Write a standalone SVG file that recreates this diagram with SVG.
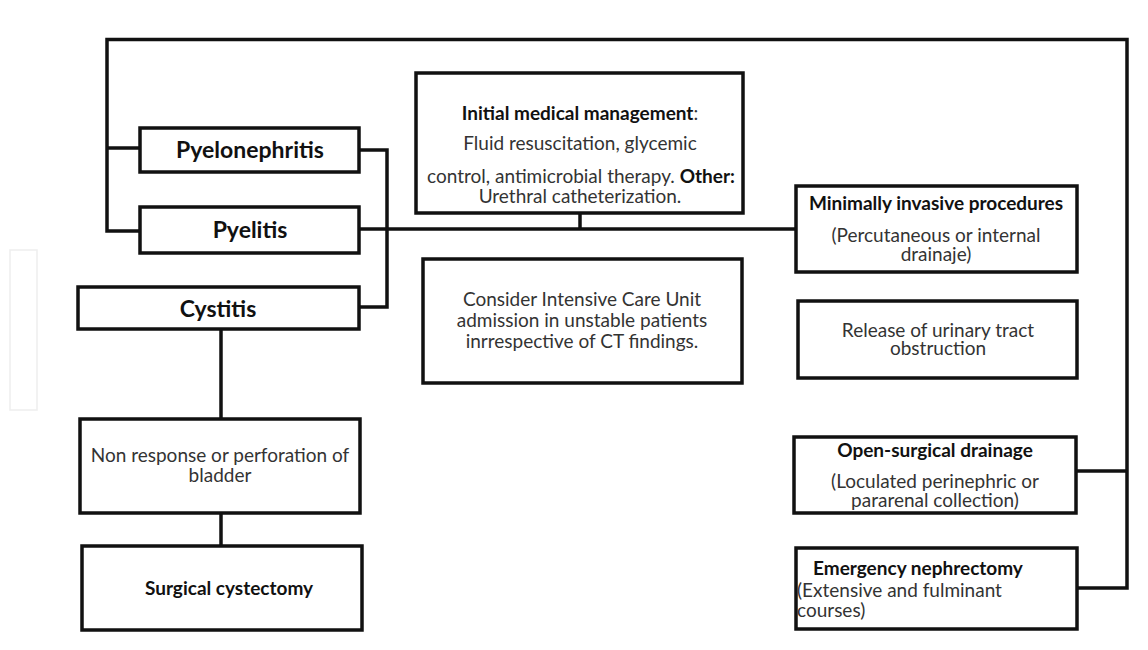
<svg xmlns="http://www.w3.org/2000/svg" width="1148" height="650" viewBox="0 0 1148 650">
<style>
.box{fill:#fff;stroke:#111;stroke-width:3.5}
.ln{fill:none;stroke:#111;stroke-width:3.5}
text{font-family:Lato,"Liberation Sans",sans-serif;fill:#333;font-size:19px}
.b{font-weight:bold;fill:#111}
.big{font-size:23px}
.c{text-anchor:middle}
</style>
<rect width="1148" height="650" fill="#fff"/>
<rect x="10" y="250" width="27" height="160" fill="#fff" stroke="#eeeeee" stroke-width="1.5"/>
<g id="connectors">
<polyline class="ln" points="140,148 107,148"/>
<polyline class="ln" points="140,231 107,231 107,39.5 1127,39.5 1127,588 1077,588"/>
<line class="ln" x1="1076" y1="471" x2="1127" y2="471"/>
<polyline class="ln" points="359,150 387,150 387,307 359,307"/>
<line class="ln" x1="359" y1="229" x2="796" y2="229"/>
<line class="ln" x1="580" y1="213" x2="580" y2="229"/>
<line class="ln" x1="221" y1="329" x2="221" y2="419"/>
<line class="ln" x1="221" y1="513" x2="221" y2="546"/>
</g>
<g id="pyelonephritis"><rect class="box" x="140" y="128" width="219" height="44"/><text class="b big c" x="250" y="158">Pyelonephritis</text></g>
<g id="pyelitis"><rect class="box" x="140" y="207" width="219" height="46"/><text class="b big c" x="250" y="238">Pyelitis</text></g>
<g id="cystitis"><rect class="box" x="78" y="287" width="281" height="42"/><text class="b big c" x="218" y="317">Cystitis</text></g>
<g id="initial"><rect class="box" x="416" y="73" width="327" height="140"/>
<text class="c" x="580" y="120"><tspan class="b">Initial medical management</tspan>:</text>
<text class="c" x="580" y="150">Fluid resuscitation, glycemic</text>
<text class="c" x="581" y="183">control, antimicrobial therapy. <tspan class="b">Other:</tspan></text>
<text class="c" x="580" y="203">Urethral catheterization.</text></g>
<g id="icu"><rect class="box" x="423" y="259" width="319" height="124"/>
<text class="c" x="582" y="306">Consider Intensive Care Unit</text>
<text class="c" x="582" y="327">admission in unstable patients</text>
<text class="c" x="582" y="348">inrrespective of CT findings.</text></g>
<g id="minimally"><rect class="box" x="796" y="186" width="281" height="86"/>
<text class="b c" x="936" y="210">Minimally invasive procedures</text>
<text class="c" x="936" y="242">(Percutaneous or internal</text>
<text class="c" x="936" y="261">drainaje)</text></g>
<g id="release"><rect class="box" x="798" y="301" width="279" height="77"/>
<text class="c" x="938" y="337">Release of urinary tract</text>
<text class="c" x="938" y="355">obstruction</text></g>
<g id="open"><rect class="box" x="794" y="437" width="282" height="76"/>
<text class="b c" x="935" y="457">Open-surgical drainage</text>
<text class="c" x="935" y="488">(Loculated perinephric or</text>
<text class="c" x="935" y="507">pararenal collection)</text></g>
<g id="emergency"><rect class="box" x="796" y="548" width="281" height="81"/>
<text class="b" x="813" y="575">Emergency nephrectomy</text>
<text x="797" y="597">(Extensive and fulminant</text>
<text x="797" y="617">courses)</text></g>
<g id="nonresponse"><rect class="box" x="80" y="419" width="280" height="94"/>
<text class="c" x="220" y="462">Non response or perforation of</text>
<text class="c" x="220" y="482">bladder</text></g>
<g id="cystectomy"><rect class="box" x="82" y="546" width="280" height="84"/>
<text class="b c" x="229" y="595">Surgical cystectomy</text></g>
</svg>
